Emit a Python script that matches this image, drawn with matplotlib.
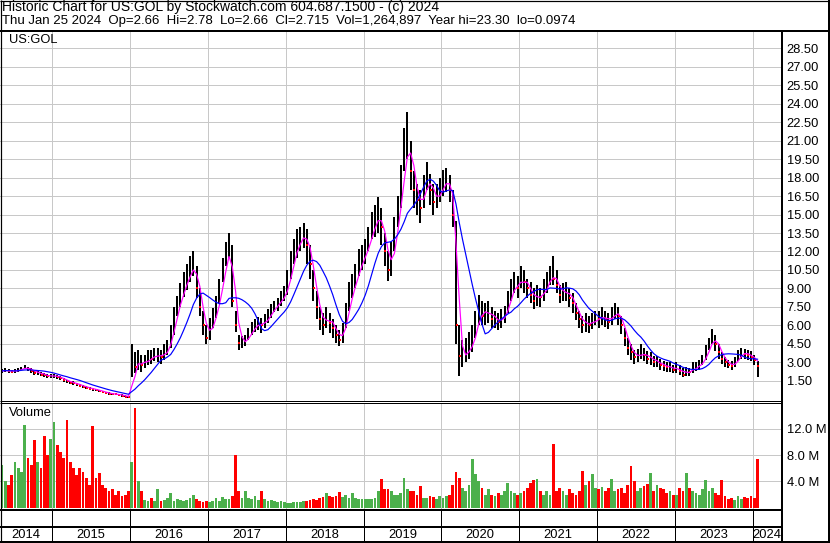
import matplotlib
matplotlib.use('Agg')
import matplotlib.pyplot as plt
import numpy as np
import pandas as pd
from matplotlib.lines import Line2D

plt.rcParams['font.family'] = ['Liberation Sans', 'DejaVu Sans']

W, H = 830, 543
FS = 9.3

# ---------------- data (semi-monthly periods) ----------------
years = [2014, 2015, 2016, 2017, 2018, 2019, 2020, 2021, 2022, 2023, 2024]
first_period = [8, 0, 0, 0, 0, 0, 0, 0, 0, 0, 0]   # 2014 starts in May

close_vals = [
    [2.30, 2.35, 2.30, 2.25, 2.30, 2.40, 2.50, 2.60, 2.45, 2.30, 2.10, 2.20, 2.00, 1.95, 1.85, 1.90],
    [1.90, 1.80, 1.70, 1.55, 1.45, 1.35, 1.30, 1.20, 1.10, 1.00, 0.95, 0.85, 0.80, 0.75, 0.65, 0.60, 0.50, 0.45, 0.42, 0.40, 0.35, 0.30, 0.22, 0.15],
    [2.8, 2.6, 3.2, 2.8, 3.0, 3.4, 3.3, 3.6, 3.6, 3.4, 3.8, 4.2, 5.2, 6.8, 7.6, 8.5, 9.3, 10.0, 10.5, 11.0, 9.0, 7.5, 6.0, 5.0],
    [5.8, 6.5, 7.5, 8.8, 10.5, 11.8, 12.5, 8.0, 6.0, 4.6, 4.6, 4.8, 5.3, 5.8, 6.0, 6.2, 6.0, 6.4, 6.8, 7.2, 7.6, 7.8, 8.2, 8.6],
    [9.5, 11.0, 12.0, 12.8, 13.0, 13.5, 12.5, 11.0, 9.0, 7.5, 6.5, 6.0, 6.8, 6.2, 5.8, 5.2, 4.8, 5.5, 7.0, 8.5, 9.0, 10.0, 11.0, 11.5],
    [12.0, 13.0, 14.0, 14.5, 15.0, 14.0, 12.0, 10.5, 11.5, 13.5, 15.5, 17.5, 20.0, 21.5, 18.5, 17.0, 16.2, 15.5, 17.0, 18.5, 17.0, 16.0, 16.5, 17.0],
    [17.5, 18.0, 17.0, 15.0, 6.0, 3.5, 3.5, 3.8, 4.2, 4.8, 6.0, 7.5, 6.8, 7.0, 7.2, 6.5, 6.5, 6.3, 6.5, 7.0, 8.0, 9.0, 9.5, 9.0],
    [10.0, 9.5, 9.0, 8.5, 8.0, 8.5, 8.3, 8.8, 9.5, 10.3, 9.8, 9.3, 8.5, 8.7, 8.8, 8.2, 7.8, 7.0, 6.5, 6.0, 6.3, 6.0, 6.3, 6.6],
    [6.5, 6.8, 6.5, 6.3, 6.8, 7.2, 6.8, 6.0, 5.0, 4.2, 3.8, 3.4, 3.5, 3.8, 3.6, 3.3, 3.4, 3.0, 3.0, 2.8, 2.7, 2.6, 2.6, 2.4],
    [2.5, 2.3, 2.0, 2.3, 2.2, 2.6, 2.6, 2.8, 3.2, 3.8, 4.5, 5.2, 4.5, 3.8, 3.3, 3.0, 2.8, 2.7, 3.0, 3.6, 3.8, 3.7, 3.6, 3.4],
    [3.2, 2.715],
]
high_vals = [
    [2.45, 2.50, 2.45, 2.40, 2.45, 2.55, 2.65, 2.75, 2.65, 2.50, 2.30, 2.35, 2.20, 2.10, 2.05, 2.05],
    [2.05, 1.95, 1.85, 1.70, 1.60, 1.50, 1.45, 1.35, 1.25, 1.15, 1.05, 1.00, 0.92, 0.85, 0.78, 0.70, 0.62, 0.55, 0.52, 0.50, 0.45, 0.40, 0.32, 0.25],
    [4.5, 3.8, 4.0, 3.6, 3.6, 4.0, 4.0, 4.2, 4.2, 4.0, 4.5, 4.8, 6.0, 7.5, 8.4, 9.4, 10.3, 11.0, 11.6, 12.0, 10.8, 9.0, 7.2, 6.0],
    [6.6, 7.4, 8.4, 9.8, 11.5, 12.8, 13.5, 12.5, 7.2, 5.2, 5.1, 5.2, 5.8, 6.3, 6.5, 6.7, 6.6, 6.9, 7.3, 7.7, 8.0, 8.2, 8.8, 9.2],
    [10.5, 12.0, 13.0, 13.8, 14.0, 14.3, 13.8, 12.5, 10.5, 8.8, 7.5, 7.0, 7.5, 7.0, 6.5, 6.0, 5.6, 6.2, 7.8, 9.5, 10.2, 11.0, 12.2, 12.5],
    [13.0, 14.0, 15.2, 15.8, 16.4, 15.5, 13.5, 12.0, 12.8, 14.8, 16.5, 19.0, 22.0, 23.3, 21.0, 18.5, 17.5, 17.0, 18.2, 19.3, 18.3, 17.5, 17.5, 18.0],
    [18.6, 18.8, 18.2, 17.0, 14.5, 6.0, 4.8, 5.0, 5.5, 6.0, 7.2, 8.5, 8.0, 7.8, 8.0, 7.5, 7.2, 7.0, 7.3, 7.6, 8.8, 9.8, 10.3, 10.0],
    [10.8, 10.5, 9.8, 9.5, 9.0, 9.3, 9.0, 9.8, 10.3, 10.8, 11.6, 10.5, 9.3, 9.4, 9.5, 9.0, 8.6, 7.8, 7.2, 6.8, 7.0, 6.8, 7.0, 7.2],
    [7.2, 7.5, 7.2, 7.0, 7.5, 7.8, 7.5, 6.8, 5.8, 5.0, 4.5, 4.0, 4.1, 4.5, 4.2, 3.9, 3.8, 3.5, 3.5, 3.3, 3.1, 3.0, 3.0, 2.8],
    [3.0, 2.8, 2.5, 2.6, 2.5, 3.0, 3.0, 3.2, 3.6, 4.4, 5.0, 5.7, 5.2, 4.5, 3.8, 3.4, 3.2, 3.1, 3.4, 4.0, 4.2, 4.1, 4.0, 3.9],
    [3.6, 3.1],
]
low_vals = [
    [2.15, 2.20, 2.15, 2.10, 2.15, 2.25, 2.35, 2.45, 2.30, 2.10, 1.95, 2.00, 1.85, 1.80, 1.70, 1.75],
    [1.75, 1.65, 1.55, 1.40, 1.30, 1.22, 1.15, 1.05, 0.98, 0.88, 0.82, 0.75, 0.70, 0.65, 0.55, 0.50, 0.42, 0.38, 0.35, 0.32, 0.28, 0.22, 0.15, 0.10],
    [1.8, 2.1, 2.4, 2.2, 2.5, 2.8, 2.9, 3.1, 3.0, 2.9, 3.2, 3.6, 4.2, 5.2, 6.8, 7.5, 8.3, 8.9, 9.5, 10.0, 8.2, 6.8, 5.2, 4.5],
    [4.8, 5.8, 6.6, 7.8, 9.5, 10.8, 11.5, 7.5, 5.5, 4.0, 4.2, 4.3, 4.8, 5.2, 5.5, 5.6, 5.4, 5.8, 6.2, 6.6, 7.1, 7.2, 7.6, 8.0],
    [8.5, 9.8, 11.0, 11.5, 12.0, 12.3, 11.0, 9.8, 8.0, 6.5, 5.6, 5.2, 5.8, 5.4, 5.0, 4.6, 4.3, 4.6, 5.8, 7.2, 8.2, 9.0, 10.0, 10.5],
    [11.0, 12.0, 13.0, 13.2, 13.5, 12.5, 10.8, 9.6, 10.0, 12.0, 14.0, 15.5, 18.5, 19.5, 17.0, 15.5, 15.0, 14.3, 15.5, 17.0, 15.8, 15.0, 15.5, 16.0],
    [16.5, 16.8, 16.0, 14.0, 4.5, 1.9, 2.6, 3.0, 3.3, 3.8, 5.0, 6.0, 6.0, 6.0, 6.2, 5.8, 5.8, 5.6, 5.8, 6.2, 7.0, 8.0, 8.6, 8.2],
    [9.0, 8.6, 8.2, 7.8, 7.3, 7.6, 7.5, 8.0, 8.6, 9.3, 9.3, 8.6, 7.8, 8.0, 8.0, 7.5, 7.0, 6.4, 5.8, 5.4, 5.5, 5.4, 5.7, 6.0],
    [5.8, 6.0, 5.9, 5.7, 6.0, 6.5, 6.0, 5.3, 4.3, 3.6, 3.2, 2.9, 3.0, 3.3, 3.1, 2.9, 2.8, 2.6, 2.6, 2.4, 2.3, 2.2, 2.2, 2.1],
    [2.1, 2.0, 1.8, 1.9, 1.9, 2.1, 2.3, 2.4, 2.8, 3.2, 4.0, 4.5, 3.9, 3.3, 2.9, 2.6, 2.5, 2.4, 2.6, 3.1, 3.3, 3.3, 3.2, 3.1],
    [2.8, 1.8],
]
# volume in millions of shares
volume_vals = [
    [6.5, 4.0, 3.5, 5.0, 7.0, 6.0, 5.5, 12.6, 7.5, 6.5, 10.3, 7.0, 6.0, 11.0, 8.0, 10.5],
    [13.0, 9.5, 8.5, 7.5, 13.4, 7.0, 6.0, 5.0, 6.0, 5.5, 4.5, 3.5, 12.5, 4.5, 5.3, 3.5, 3.0, 2.5, 2.8, 2.0, 2.5, 1.8, 2.0, 2.5],
    [7.0, 15.2, 4.0, 2.5, 1.2, 1.0, 1.5, 1.0, 2.8, 1.0, 1.2, 1.5, 2.2, 1.0, 1.3, 1.2, 1.0, 1.2, 1.5, 2.0, 1.3, 1.0, 0.9, 1.0],
    [0.9, 1.0, 1.5, 1.0, 1.6, 1.3, 1.3, 1.8, 8.0, 2.5, 1.5, 2.5, 1.5, 1.3, 1.8, 1.2, 2.5, 1.3, 1.0, 1.2, 1.0, 0.9, 1.0, 0.8],
    [0.7, 0.7, 0.8, 0.8, 0.9, 1.0, 1.0, 1.2, 1.3, 1.2, 1.5, 1.6, 2.3, 1.8, 1.6, 1.8, 2.4, 1.6, 2.0, 1.5, 2.3, 1.5, 1.3, 1.4],
    [1.3, 1.3, 1.4, 1.5, 2.5, 4.3, 2.8, 2.8, 2.5, 2.0, 2.0, 2.3, 4.6, 2.8, 2.5, 2.5, 2.0, 3.3, 1.5, 1.5, 1.8, 1.6, 1.4, 1.8],
    [1.5, 1.8, 2.0, 3.5, 5.4, 4.5, 3.0, 2.5, 3.5, 7.4, 5.2, 4.0, 3.0, 2.0, 2.8, 2.0, 1.8, 2.3, 2.0, 2.5, 3.8, 2.5, 2.3, 2.0],
    [2.3, 2.5, 3.0, 3.8, 4.2, 4.4, 2.5, 2.0, 2.5, 2.0, 9.7, 2.5, 3.0, 2.5, 2.0, 2.8, 2.3, 2.0, 2.5, 5.6, 3.5, 4.0, 5.1, 3.0],
    [2.8, 3.2, 2.5, 3.0, 4.4, 2.5, 2.8, 3.0, 2.3, 3.5, 6.3, 4.0, 2.5, 3.0, 3.3, 3.6, 5.3, 2.5, 3.5, 3.0, 2.8, 2.2, 2.5, 2.0],
    [2.0, 3.0, 2.5, 5.3, 3.0, 2.5, 2.3, 2.0, 2.8, 4.2, 2.5, 3.0, 2.2, 2.0, 4.2, 1.8, 1.3, 1.5, 1.2, 1.8, 1.3, 1.6, 1.5, 1.8],
    [1.5, 7.4],
]

price_ticks = [1.5, 3.0, 4.5, 6.0, 7.5, 9.0, 10.5, 12.0, 13.5, 15.0, 16.5, 18.0, 19.5, 21.0, 22.5, 24.0, 25.5, 27.0, 28.5]
volume_ticks = [4.0, 8.0, 12.0]
year_labels = ['2014', '2015', '2016', '2017', '2018', '2019', '2020', '2021', '2022', '2023', '2024']

header1 = "Historic Chart for US:GOL by Stockwatch.com 604.687.1500 - (c) 2024"
header2 = ("Thu Jan 25 2024  Op=2.66  Hi=2.78  Lo=2.66  Cl=2.715  "
           "Vol=1,264,897  Year hi=23.30  lo=0.0974")

# ---------------- build series ----------------
t, c, hi, lo, vol = [], [], [], [], []
for y, k0, cc, hh, ll, vv in zip(years, first_period, close_vals, high_vals, low_vals, volume_vals):
    for i in range(len(cc)):
        t.append(y + (k0 + i + 0.5) / 24.0)
        c.append(cc[i]); hi.append(hh[i]); lo.append(ll[i]); vol.append(vv[i])
t = np.array(t); c = np.array(c); hi = np.array(hi); lo = np.array(lo); vol = np.array(vol)
s = pd.Series(c)
ma_fast = s.rolling(3, min_periods=1).mean().values
ma_slow = s.rolling(10, min_periods=1).mean().values
prev = np.concatenate([[c[0]], c[:-1]])
down = c < prev

# ---------------- layout ----------------
PX_PER_YEAR = 77.82
X2015 = 52.3
def px2t(x):
    return 2015 + (x - X2015) / PX_PER_YEAR
XR = 781.7
xlim = (px2t(0), px2t(XR))

fig = plt.figure(figsize=(W / 100, H / 100), dpi=100)
fig.patch.set_facecolor('white')

def fx(x): return x / W
def fy(y): return 1 - y / H

ax_p = fig.add_axes([0, fy(400.7), fx(XR), (400.7 - 31) / H])
ax_v = fig.add_axes([0, fy(510), fx(XR), (510 - 402.7) / H])
ax_b = fig.add_axes([0, fy(541), fx(XR), (541 - 510) / H])

GRID = '#C8C8C8'
LW1 = 0.72  # 1 px in points

for ax in (ax_p, ax_v, ax_b):
    ax.set_xlim(*xlim)
    for sp in ax.spines.values():
        sp.set_visible(False)
    ax.set_xticks([])
    ax.set_facecolor('white')

# price panel
ax_p.set_ylim(-0.12, 29.91)
for yv in price_ticks:
    ax_p.axhline(yv, color=GRID, lw=LW1, zorder=0)
for yr in range(2015, 2025):
    ax_p.axvline(yr, color=GRID, lw=LW1, zorder=0)
ax_p.vlines(t, lo, hi, color='black', lw=2.0 * LW1, zorder=2)
ax_p.plot(t[down] + 0.008, c[down], 's', ms=1.7, mew=0, color='red', zorder=3)
ax_p.plot(t, ma_fast, color='#FF00FF', lw=1.2 * LW1, zorder=4)
ax_p.plot(t, ma_slow, color='#0000FF', lw=1.2 * LW1, zorder=5)
ax_p.yaxis.tick_right()
ax_p.set_yticks(price_ticks)
ax_p.set_yticklabels([f"{v:.2f}" for v in price_ticks], fontsize=FS)
ax_p.tick_params(axis='y', length=0, pad=3.6)
ax_p.text(fx(9) / fx(XR), (400.7 - 40) / (400.7 - 31), 'US:GOL', transform=ax_p.transAxes,
          fontsize=FS, va='center', ha='left')

# volume panel
ax_v.set_ylim(-0.35, 16.0)
for yv in volume_ticks:
    ax_v.axhline(yv, color=GRID, lw=LW1, zorder=0)
for yr in range(2015, 2025):
    ax_v.axvline(yr, color=GRID, lw=LW1, zorder=0)
vcol = np.where(down, '#FF0000', '#4CB04C')
ax_v.bar(t, vol, width=1 / 24 * 0.85, color=vcol, linewidth=0, zorder=2)
ax_v.yaxis.tick_right()
ax_v.set_yticks(volume_ticks)
ax_v.set_yticklabels([f"{v:.1f} M" for v in volume_ticks], fontsize=FS)
ax_v.tick_params(axis='y', length=0, pad=3.6)
ax_v.text(fx(9) / fx(XR), (510 - 413) / (510 - 402.7), 'Volume', transform=ax_v.transAxes,
          fontsize=FS, va='center', ha='left')

# bottom year strip
ax_b.set_ylim(0, 1)
ax_b.set_yticks([])
for yr in range(2015, 2025):
    ax_b.axvline(yr, color='black', lw=LW1)
bounds = [xlim[0]] + list(range(2015, 2025)) + [xlim[1]]
for i, lab in enumerate(year_labels):
    xc = (bounds[i] + bounds[i + 1]) / 2
    ax_b.text(xc, (541 - 534.5) / 31, lab, ha='center', va='center', fontsize=FS)

# borders / separators (pixel coordinates)
def hline(y, x0, x1, lw):
    fig.add_artist(Line2D([fx(x0), fx(x1)], [fy(y), fy(y)], transform=fig.transFigure,
                          color='black', lw=lw * LW1, solid_capstyle='butt'))
def vline(x, y0, y1, lw):
    fig.add_artist(Line2D([fx(x), fx(x)], [fy(y0), fy(y1)], transform=fig.transFigure,
                          color='black', lw=lw * LW1, solid_capstyle='butt'))

hline(31, 0, W, 2)
hline(400.7, 0, XR, 1)
hline(402.7, 0, XR, 1)
hline(510, 0, XR, 2)
hline(527, 0, XR, 2)
hline(541.5, 0, W, 2)
vline(XR, 31, 542, 2)
# outer frame
hline(0.5, 0, W, 1.2)
vline(0.5, 0, H, 1.2)
vline(828.5, 0, H, 2)

# header text
fig.text(fx(2), fy(7.5), header1, fontsize=10, ha='left', va='center')
fig.text(fx(2), fy(21), header2, fontsize=9.55, ha='left', va='center')

fig.savefig('out.png', dpi=100, facecolor='white')
